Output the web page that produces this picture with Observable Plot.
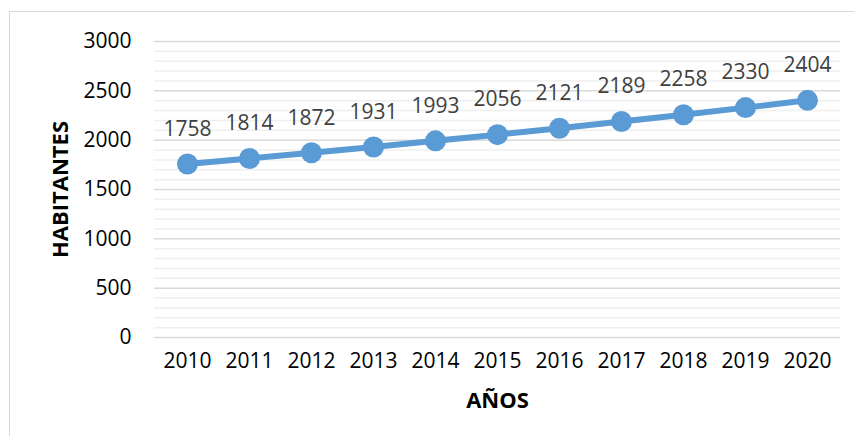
<!DOCTYPE html>
<html>
<head>
<meta charset="utf-8">
<script src="https://cdn.jsdelivr.net/npm/d3@7"></script>
<script src="https://cdn.jsdelivr.net/npm/@observablehq/plot@0.6"></script>
<style>
  html, body { margin: 0; padding: 0; background: #fff; overflow: hidden; }
  #wrap { position: relative; width: 854px; height: 436px; }
  #frame { position: absolute; left: 9px; top: 11px; width: 900px; height: 500px; border: 1.5px solid #d9d9d9; box-sizing: border-box; }
  #chart { position: absolute; left: 0; top: 0; }
</style>
</head>
<body>
<div id="wrap"><div id="frame"></div><div id="chart"></div></div>
<script>
const years = ["2010","2011","2012","2013","2014","2015","2016","2017","2018","2019","2020"];
const habitantes = [1758, 1814, 1872, 1931, 1993, 2056, 2121, 2189, 2258, 2330, 2404];
const yTicks = [0, 500, 1000, 1500, 2000, 2500, 3000];
const minorTicks = d3.range(0, 3001, 100);
const xTitle = "AÑOS";
const yTitle = "HABITANTES";

const data = years.map((y, i) => ({year: y, value: habitantes[i]}));
const font = "'Open Sans', 'Liberation Sans', sans-serif";

const chart = Plot.plot({
  width: 854,
  height: 436,
  marginLeft: 154,
  marginRight: 14,
  marginTop: 41,
  marginBottom: 99,
  style: {fontFamily: font, background: "transparent", overflow: "visible"},
  x: {type: "point", domain: years, padding: 0.5},
  y: {domain: [0, 3000]},
  marks: [
    Plot.ruleY(minorTicks.filter(d => d % 500 !== 0), {stroke: "#efefef", strokeWidth: 1.5}),
    Plot.ruleY(yTicks, {stroke: "#d9d9d9", strokeWidth: 1.5}),
    Plot.axisY({ticks: yTicks, tickFormat: d => String(d), tickSize: 0, tickPadding: 23, fontSize: 21, color: "#000", label: null}),
    Plot.axisX({tickSize: 0, tickPadding: 16, fontSize: 21, color: "#000", label: null}),
    Plot.line(data, {x: "year", y: "value", stroke: "#5b9bd5", strokeWidth: 6}),
    Plot.dot(data, {x: "year", y: "value", r: 10.5, fill: "#5b9bd5", stroke: "none"}),
    Plot.text(data, {x: "year", y: "value", text: d => String(d.value), dy: -35, fontSize: 21, fill: "#404040"}),
    Plot.text([xTitle], {frameAnchor: "bottom", lineAnchor: "middle", dy: 63, fontSize: 22, fontWeight: "bold", fill: "#000"}),
    Plot.text([yTitle], {frameAnchor: "left", textAnchor: "middle", lineAnchor: "middle", dx: -94, rotate: -90, fontSize: 22, fontWeight: "bold", fill: "#000"})
  ]
});
document.getElementById("chart").appendChild(chart);
</script>
</body>
</html>
